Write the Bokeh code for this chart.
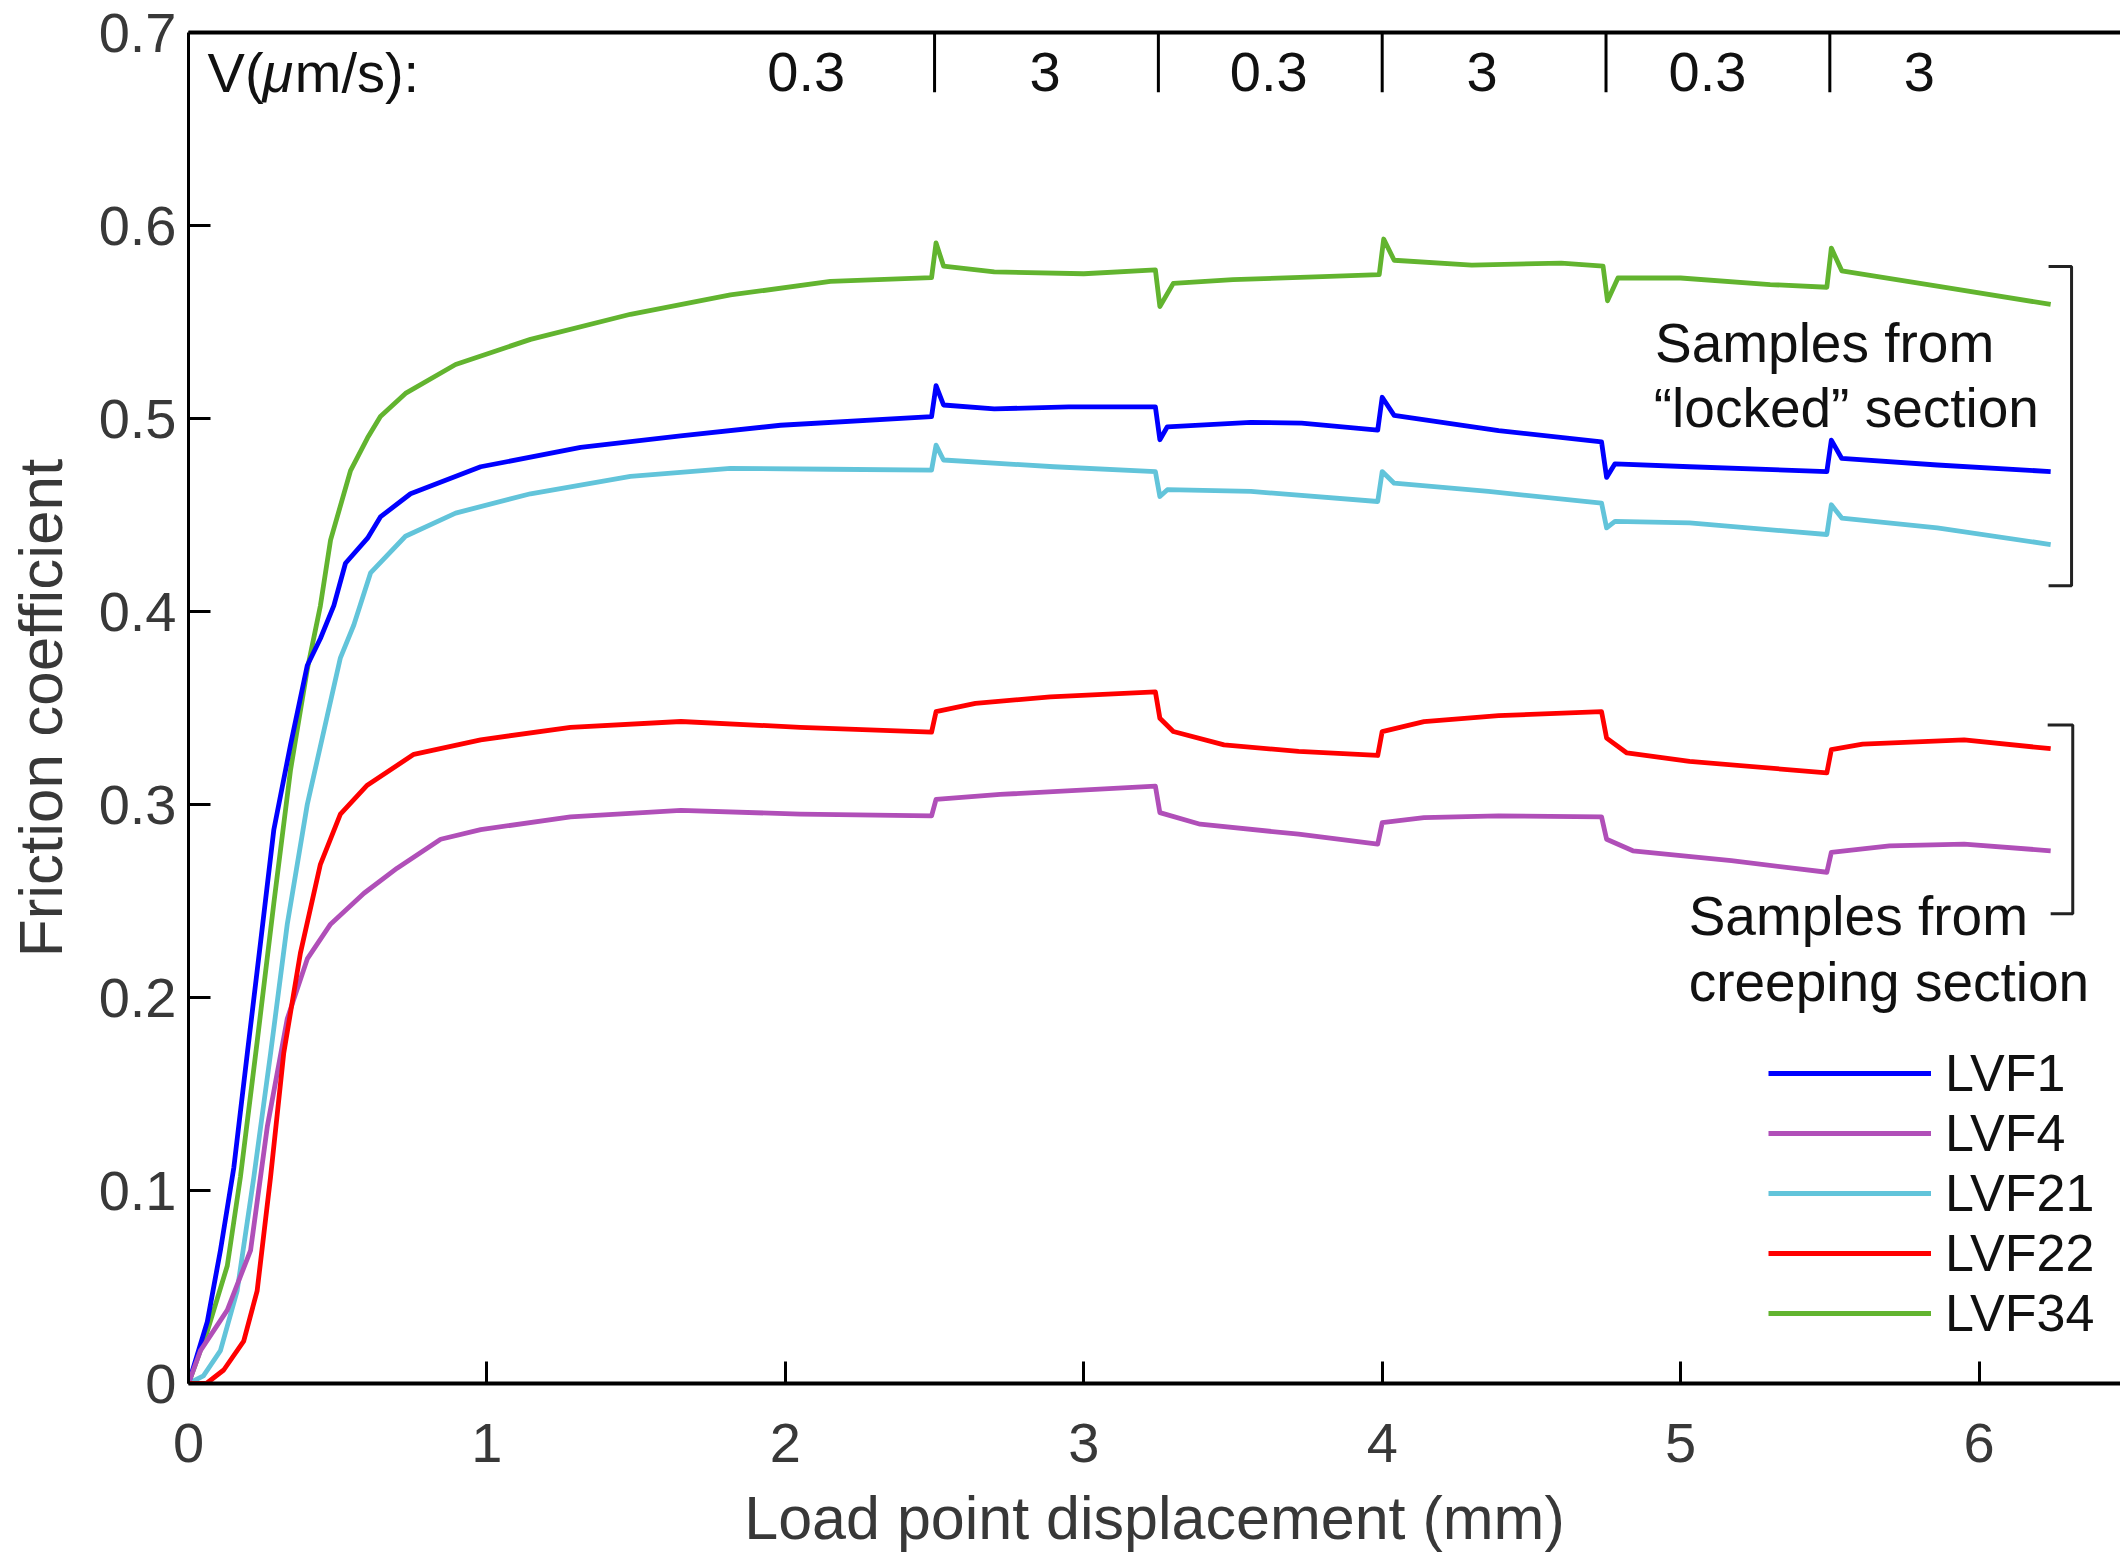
from bokeh.plotting import figure
from bokeh.models import Range1d, LinearAxis, FixedTicker, Legend, LegendItem, Label
from bokeh.core.properties import value
from bokeh.embed import file_html
from bokeh.resources import INLINE

FONT = "Liberation Sans"

# ---------------- data ----------------
x_ticks = [0, 1, 2, 3, 4, 5, 6]
y_ticks = [0, 0.1, 0.2, 0.3, 0.4, 0.5, 0.6, 0.7]

series_names = ["LVF1", "LVF4", "LVF21", "LVF22", "LVF34"]
series_colors = ["#0000ff", "#b04fb8", "#62c4da", "#ff0000", "#62b42f"]

lvf1_x = [0, 0.063, 0.107, 0.152, 0.197, 0.241, 0.286, 0.342, 0.398, 0.442, 0.487, 0.526, 0.6, 0.643,
          0.744, 0.979, 1.314, 1.649, 1.984, 2.49, 2.505, 2.53, 2.7, 2.95, 3.24, 3.255, 3.28, 3.56,
          3.73, 3.985, 4.0, 4.04, 4.39, 4.735, 4.752, 4.78, 5.03, 5.49, 5.505, 5.54, 5.86, 6.24]
lvf1_y = [0, 0.032, 0.069, 0.112, 0.171, 0.228, 0.287, 0.331, 0.372, 0.386, 0.403, 0.425, 0.438, 0.449,
          0.461, 0.475, 0.485, 0.491, 0.4965, 0.501, 0.517, 0.507, 0.505, 0.506, 0.506, 0.489, 0.4957, 0.498,
          0.4976, 0.494, 0.511, 0.5016, 0.4937, 0.4879, 0.4695, 0.4765, 0.475, 0.4725, 0.4888, 0.4793, 0.4759, 0.4725]

lvf4_x = [0, 0.04, 0.13, 0.208, 0.264, 0.331, 0.398, 0.476, 0.588, 0.699, 0.845, 0.979, 1.28, 1.65, 2.05,
          2.49, 2.505, 2.72, 3.24, 3.255, 3.39, 3.72, 3.985, 4.0, 4.14, 4.39, 4.735, 4.752, 4.84, 5.17,
          5.49, 5.505, 5.7, 5.95, 6.24]
lvf4_y = [0, 0.017, 0.038, 0.069, 0.133, 0.189, 0.22, 0.238, 0.254, 0.267, 0.282, 0.287, 0.2936, 0.297, 0.295,
          0.2941, 0.3026, 0.3052, 0.3095, 0.2958, 0.2898, 0.2846, 0.2795, 0.2906, 0.2932, 0.2941, 0.2936, 0.282,
          0.276, 0.2709, 0.2649, 0.2752, 0.2786, 0.2795, 0.276]

lvf21_x = [0, 0.05, 0.107, 0.163, 0.219, 0.275, 0.331, 0.398, 0.465, 0.509, 0.554, 0.61, 0.727, 0.895, 1.146,
           1.481, 1.816, 2.151, 2.49, 2.505, 2.53, 2.9, 3.24, 3.255, 3.28, 3.56, 3.985, 4.0, 4.04, 4.356,
           4.735, 4.752, 4.78, 5.03, 5.49, 5.505, 5.54, 5.86, 6.24]
lvf21_y = [0, 0.004, 0.017, 0.048, 0.107, 0.171, 0.238, 0.3, 0.346, 0.376, 0.393, 0.42, 0.439, 0.451, 0.461,
           0.47, 0.4742, 0.4737, 0.4733, 0.4862, 0.4785, 0.475, 0.4725, 0.4596, 0.4631, 0.4622, 0.457, 0.4725,
           0.4665, 0.4622, 0.4562, 0.4433, 0.4467, 0.4459, 0.4399, 0.4553, 0.4484, 0.4433, 0.4347]

lvf22_x = [0, 0.06, 0.118, 0.185, 0.23, 0.275, 0.319, 0.375, 0.442, 0.509, 0.599, 0.755, 0.979, 1.28, 1.65,
           2.05, 2.49, 2.505, 2.637, 2.888, 3.24, 3.255, 3.30, 3.47, 3.72, 3.985, 4.0, 4.14, 4.39, 4.735,
           4.752, 4.82, 5.03, 5.49, 5.505, 5.61, 5.95, 6.24]
lvf22_y = [0, 0, 0.007, 0.022, 0.048, 0.107, 0.171, 0.223, 0.269, 0.295, 0.31, 0.326, 0.3335, 0.34, 0.343,
           0.340, 0.3375, 0.3481, 0.3524, 0.3558, 0.3584, 0.3447, 0.3378, 0.3309, 0.3275, 0.3254, 0.3378, 0.3429,
           0.346, 0.3481, 0.3344, 0.3267, 0.3223, 0.3164, 0.3284, 0.3313, 0.3335, 0.3289]

lvf34_x = [0, 0.063, 0.13, 0.174, 0.23, 0.286, 0.342, 0.398, 0.442, 0.476, 0.543, 0.6, 0.643, 0.727, 0.895,
           1.146, 1.481, 1.816, 2.151, 2.49, 2.505, 2.53, 2.7, 3.0, 3.24, 3.255, 3.3, 3.5, 3.8, 3.99, 4.005,
           4.04, 4.3, 4.6, 4.74, 4.755, 4.79, 5.0, 5.3, 5.49, 5.505, 5.54, 5.86, 6.24]
lvf34_y = [0, 0.027, 0.061, 0.107, 0.177, 0.249, 0.318, 0.37, 0.403, 0.437, 0.473, 0.49, 0.501, 0.513, 0.528,
           0.541, 0.554, 0.564, 0.571, 0.573, 0.591, 0.579, 0.576, 0.575, 0.577, 0.558, 0.570, 0.572, 0.5735,
           0.5745, 0.593, 0.582, 0.5795, 0.5805, 0.579, 0.561, 0.5728, 0.5728, 0.5694, 0.568, 0.5883, 0.5765,
           0.5686, 0.5591]

# velocity steps
vel_labels = ["0.3", "3", "0.3", "3", "0.3", "3"]
vel_label_x = [2.07, 2.87, 3.62, 4.335, 5.09, 5.80]
step_x = [2.5, 3.25, 4.0, 4.75, 5.5]

# ---------------- figure ----------------
p = figure(width=2120, height=1555, x_range=Range1d(0, 6.474), y_range=Range1d(0, 0.7),
           output_backend="svg", toolbar_location=None,
           min_border_left=188, min_border_right=0, min_border_top=32, min_border_bottom=172,
           x_axis_label="Load point displacement (mm)", y_axis_label="Friction coefficient")
p.outline_line_color = None
p.grid.visible = False
p.background_fill_color = "white"
p.border_fill_color = "white"

xa = p.xaxis[0]
xa.ticker = FixedTicker(ticks=x_ticks)
ya = p.yaxis[0]
ya.ticker = FixedTicker(ticks=y_ticks)
for ax in (xa, ya):
    ax.major_tick_in = 22
    ax.major_tick_out = 0
    ax.minor_tick_line_color = None
    ax.axis_line_color = "black"
    ax.major_tick_line_color = "black"
    ax.major_tick_line_width = 3
    ax.major_label_text_font = FONT
    ax.major_label_text_font_size = "56px"
    ax.major_label_text_color = "#383838"
    ax.axis_label_text_font = FONT
    ax.axis_label_text_font_style = "normal"
    ax.axis_label_text_color = "#383838"
xa.axis_label_text_font_size = "61px"
ya.axis_label_text_font_size = "62px"
xa.axis_line_width = 4
ya.axis_line_width = 3
xa.major_label_standoff = 40
xa.axis_label_standoff = 19
ya.major_label_standoff = 12
ya.axis_label_standoff = 21

top = LinearAxis(ticker=FixedTicker(ticks=[]), major_label_text_font_size="0px",
                 major_tick_in=0, major_tick_out=0, minor_tick_in=0, minor_tick_out=0,
                 axis_line_width=4, axis_line_color="black")
p.add_layout(top, "above")

# ---------------- curves ----------------
xs = [lvf1_x, lvf4_x, lvf21_x, lvf22_x, lvf34_x]
ys = [lvf1_y, lvf4_y, lvf21_y, lvf22_y, lvf34_y]
renderers = {}
draw_order = [4, 2, 0, 1, 3]
for i in draw_order:
    r = p.line(xs[i], ys[i], line_color=series_colors[i], line_width=4.8, line_join="round")
    renderers[series_names[i]] = r

legend = Legend(items=[LegendItem(label=n, renderers=[renderers[n]]) for n in series_names],
                location=(1580, 40), orientation="vertical",
                glyph_width=163, glyph_height=40, label_height=40, spacing=0,
                padding=0, margin=0, label_standoff=14,
                border_line_color=None, background_fill_alpha=0,
                label_text_font=FONT, label_text_font_size="52px", label_text_color="#111111")
p.add_layout(legend)

# ---------------- velocity annotation ----------------
p.segment(x0=step_x, y0=[0.7] * len(step_x), x1=step_x, y1=[0.669] * len(step_x),
          line_color="black", line_width=3)
p.text(x=vel_label_x, y=[0.6795] * len(vel_label_x), text=vel_labels,
       text_font=value(FONT), text_font_size=value("56px"), text_color="#111111",
       text_align="center", text_baseline="alphabetic")
# "V(", italic mu, "m/s):"
for (lx, t, style) in [(0.064, "V(", "normal"), (0.248, "μ", "italic"), (0.356, "m/s):", "normal")]:
    p.add_layout(Label(x=lx, y=0.6795, text=t, text_font=FONT, text_font_size="56px",
                       text_font_style=style, text_color="#111111", text_baseline="alphabetic"))

# ---------------- brackets & group labels ----------------
p.line([6.233, 6.31, 6.31, 6.233], [0.5788, 0.5788, 0.4133, 0.4133], line_color="#222222", line_width=3)
p.line([6.23, 6.314, 6.314, 6.24], [0.3412, 0.3412, 0.2434, 0.2434], line_color="#222222", line_width=3)

for (lx, ly, t) in [(4.914, 0.539, "Samples from"), (4.91, 0.5055, "\u201clocked\u201d section"),
                    (5.027, 0.242, "Samples from"), (5.027, 0.208, "creeping section")]:
    p.add_layout(Label(x=lx, y=ly, text=t, text_font=FONT, text_font_size="55px",
                       text_color="#111111", text_baseline="alphabetic"))

open("out.html", "w").write(file_html(p, INLINE))
